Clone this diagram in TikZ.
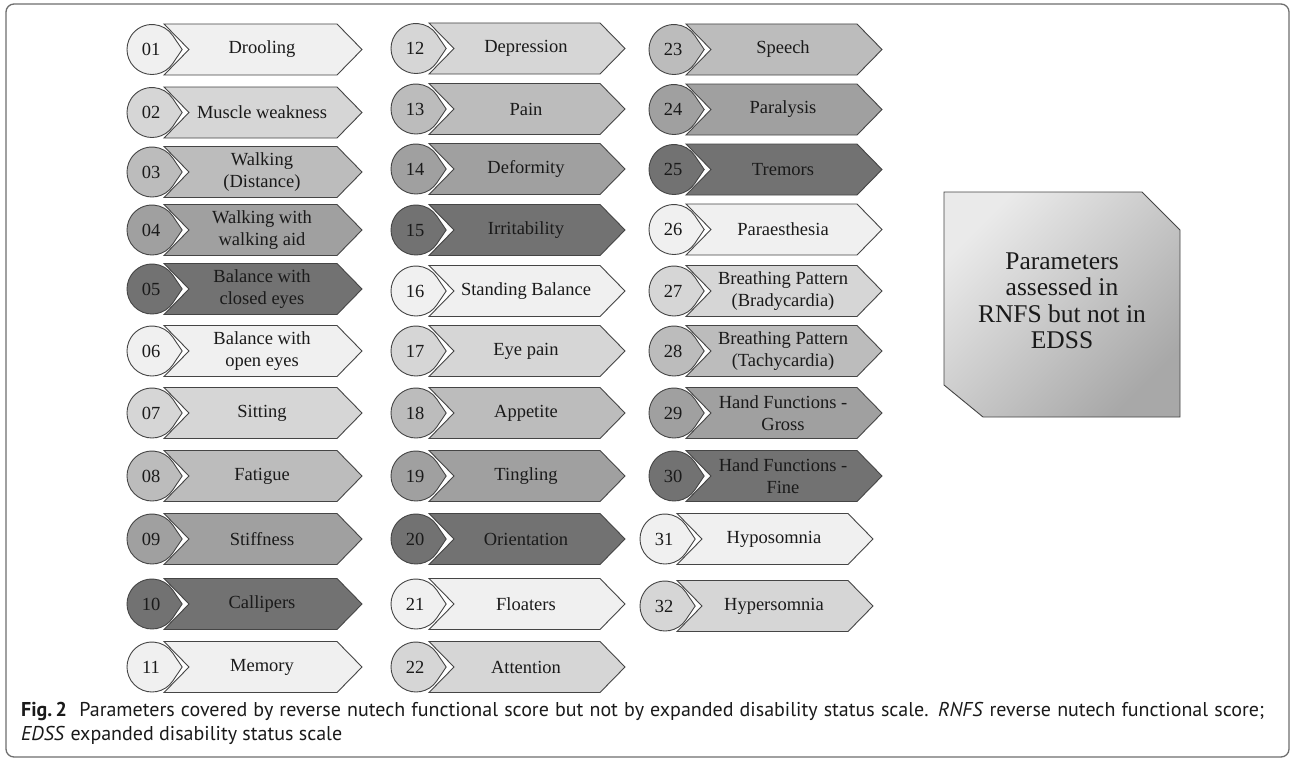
\documentclass[tikz,border=0pt]{standalone}
\usepackage{fontspec}
\setmainfont{Liberation Serif}
\newfontfamily\capfont{PT Sans}
\definecolor{gA}{HTML}{F0F0F0}
\definecolor{gB}{HTML}{D6D6D6}
\definecolor{gC}{HTML}{BCBCBC}
\definecolor{gD}{HTML}{A0A0A0}
\definecolor{gE}{HTML}{727272}
\definecolor{outl}{HTML}{454545}
\definecolor{txt}{HTML}{1A1A1A}
\definecolor{frame}{HTML}{6E6E6E}
\definecolor{boxlight}{HTML}{EAEAEA}
\definecolor{boxdark}{HTML}{A8A8A8}
\newcommand\prow[7]{%
  \filldraw[shapeline, fill=#6] (#3,#5-25.5) -- (#4-25,#5-25.5) -- (#4,#5) -- (#4-25,#5+25.5) -- (#3,#5+25.5) -- (#3+25,#5) -- cycle;
  \filldraw[shapeline, fill=#6] (#2,#5) ++(34:25) arc[start angle=34,end angle=326,radius=25] -- (#2+30.2,#5) -- cycle;
  \node[numtxt] (n#1) at (#2-1,#5) {#1};
  \node[lbl] (t#1) at ({(#3+#4)/2-1},#5) {#7};
}
\begin{document}
\begin{tikzpicture}[x=1pt,y=-1pt,
  shapeline/.style={draw=outl, line width=0.9pt},
  lbl/.style={font=\fontsize{18.5}{21.5}\selectfont, align=center, text=txt, inner sep=0pt},
  numtxt/.style={font=\fontsize{18.5}{21.5}\selectfont, text=txt, inner sep=0pt},
  captxt/.style={font=\capfont\fontsize{20}{24}\selectfont, text=txt, inner sep=0pt, anchor=base west}]
\useasboundingbox (0,0) rectangle (1295,760);
\fill[white] (0,0) rectangle (1295,760);
\draw[frame, line width=1.3pt, rounded corners=8pt] (6,4) rectangle (1289,757);
% column 1
\prow{01}{152}{164}{362}{49.5}{gA}{Drooling}
\prow{02}{152}{164}{362}{112.5}{gB}{Muscle weakness}
\prow{03}{152}{164}{362}{172}{gC}{Walking\\(Distance)}
\prow{04}{152}{164}{362}{230}{gD}{Walking with\\walking aid}
\prow{05}{152}{164}{362}{289}{gE}{Balance with\\closed eyes}
\prow{06}{152}{164}{362}{351}{gA}{Balance with\\open eyes}
\prow{07}{152}{164}{362}{413}{gB}{Sitting}
\prow{08}{152}{164}{362}{476}{gC}{Fatigue}
\prow{09}{152}{164}{362}{539}{gD}{Stiffness}
\prow{10}{152}{164}{362}{604}{gE}{Callipers}
\prow{11}{152}{164}{362}{667}{gA}{Memory}
% column 2
\prow{12}{416}{429}{625}{48.5}{gB}{Depression}
\prow{13}{416}{429}{625}{109}{gC}{Pain}
\prow{14}{416}{429}{625}{169}{gD}{Deformity}
\prow{15}{416}{429}{625}{230}{gE}{Irritability}
\prow{16}{416}{429}{625}{291}{gA}{Standing Balance}
\prow{17}{416}{429}{625}{351}{gB}{Eye pain}
\prow{18}{416}{429}{625}{413}{gC}{Appetite}
\prow{19}{416}{429}{625}{476}{gD}{Tingling}
\prow{20}{416}{429}{625}{539}{gE}{Orientation}
\prow{21}{416}{429}{625}{604}{gA}{Floaters}
\prow{22}{416}{429}{625}{667}{gB}{Attention}
% column 3
\prow{23}{674}{686}{882}{49.5}{gC}{Speech}
\prow{24}{674}{686}{882}{109.5}{gD}{Paralysis}
\prow{25}{674}{686}{882}{169.5}{gE}{Tremors}
\prow{26}{674}{686}{882}{229.5}{gA}{Paraesthesia}
\prow{27}{674}{686}{882}{291}{gB}{Breathing Pattern\\(Bradycardia)}
\prow{28}{674}{686}{882}{351}{gC}{Breathing Pattern\\(Tachycardia)}
\prow{29}{674}{686}{882}{413}{gD}{Hand Functions -\\Gross}
\prow{30}{674}{686}{882}{476}{gE}{Hand Functions -\\Fine}
\prow{31}{665}{677}{873}{539}{gA}{Hyposomnia}
\prow{32}{665}{677}{873}{606}{gB}{Hypersomnia}
% right box
\shade[top color=boxlight, bottom color=boxdark, shading angle=45]
  (944,192) -- (1142,192) -- (1180,230) -- (1180,417) -- (983,417) -- (944,385) -- cycle;
\draw[outl, line width=0.9pt]
  (944,192) -- (1142,192) -- (1180,230) -- (1180,417) -- (983,417) -- (944,385) -- cycle;
\node[font=\fontsize{25.5}{26.5}\selectfont, align=center, text=txt, inner sep=0pt] (box) at (1062,301)
  {Parameters\\assessed in\\RNFS but not in\\EDSS};
% caption
\node[captxt] (cap1) at (21,716)
  {\makebox[1243pt][s]{\textbf{Fig.\,2}\ \ Parameters covered by reverse nutech functional score but not by expanded disability status scale. \textit{RNFS} reverse nutech functional score;}};
\node[captxt] (cap2) at (21,740) {\textit{EDSS} expanded disability status scale};
\end{tikzpicture}
\end{document}
